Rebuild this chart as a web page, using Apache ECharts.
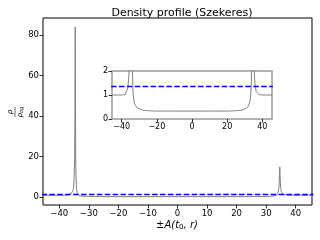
<!DOCTYPE html>
<html><head><meta charset="utf-8">
<script src="https://cdn.jsdelivr.net/npm/echarts@6/dist/echarts.min.js"></script>
<style>html,body{margin:0;padding:0;background:#fff}#c{width:320px;height:240px}</style>
</head><body><div id="c"></div>
<script>
// Density profile values
const xValues = [-45.5,-42,-40,-38,-37,-36.5,-36,-35.7,-35.4,-35.2,-35.0,-34.8,-34.7,-34.6,-34.5,-34.4,-34.2,-34.0,-33.7,-33.4,-33,-32.5,-32,-31,-30,-28,-26,-24,-20,-15,-10,0,10,15,20,24,26,28,30,31,32,32.5,33,33.4,33.7,34.0,34.2,34.4,34.6,34.8,35.0,35.3,35.6,36,36.5,37,38,40,42,45.5];
const rhoValues = [1.0,1.0,1.0,1.02,1.1,1.3,1.7,2.2,3.2,4.5,8,20,40,84,40,15,5,2.5,1.4,1.0,0.75,0.6,0.52,0.45,0.41,0.37,0.35,0.34,0.33,0.33,0.33,0.33,0.33,0.33,0.33,0.34,0.35,0.37,0.41,0.45,0.52,0.6,0.75,1.0,1.4,2.3,3.5,7,15,7,3.5,2.2,1.7,1.35,1.15,1.07,1.02,1.0,1.0,1.0];
const bgX = [-46, 46];
const bgLevel = 1.35;
const mainXTicks = [-40,-30,-20,-10,0,10,20,30,40];
const mainYTicks = [0,20,40,60,80];
const insetXTicks = [-40,-20,0,20,40];
const insetYTicks = [0,1,2];

const curve = xValues.map((x,i)=>[x, rhoValues[i]]);
const bgLine = bgX.map(x=>[x,bgLevel]);
const fmt = v => (v<0 ? '\u2212'+Math.abs(v) : String(v));
const font = 'DejaVu Sans';

function xAxis(idx, ticks, fs){
  return {type:'value', gridIndex:idx, min:-45.5, max:45.5, position:'bottom',
    axisLine:{show:false, onZero:false}, splitLine:{show:false},
    axisTick:{show:true, inside:false, length:3.5, lineStyle:{color:'#000', width:0.8}, customValues:ticks},
    axisLabel:{color:'#000', fontFamily:font, fontSize:fs, margin:4, customValues:ticks, formatter:fmt}};
}
function yAxis(idx, min, max, ticks, fs){
  return {type:'value', gridIndex:idx, min:min, max:max, position:'left',
    axisLine:{show:false, onZero:false}, splitLine:{show:false},
    axisTick:{show:true, inside:false, length:3.5, lineStyle:{color:'#000', width:0.8}, customValues:ticks},
    axisLabel:{color:'#000', fontFamily:font, fontSize:fs, margin:4, customValues:ticks, formatter:fmt}};
}

const chart = echarts.init(document.getElementById('c'), null, {renderer:'canvas'});
chart.setOption({
  animation:false,
  backgroundColor:'#fff',
  title:{text:'Density profile (Szekeres)', left:177, textAlign:'center', top:3,
    textStyle:{fontFamily:font, fontSize:11, fontWeight:'normal', color:'#000'}},
  grid:[
    {left:43, right:8, top:18, bottom:35, show:true, borderColor:'#000', borderWidth:1, backgroundColor:'transparent'},
    {left:112, right:48, top:71, bottom:121, show:true, borderColor:'#999', borderWidth:1.5, backgroundColor:'#fff', z:5}
  ],
  xAxis:[xAxis(0, mainXTicks, 8.5), Object.assign(xAxis(1, insetXTicks, 8), {z:6})],
  yAxis:[yAxis(0, -3.8, 88.4, mainYTicks, 8.5), Object.assign(yAxis(1, 0, 2, insetYTicks, 8), {z:6})],
  series:[
    {type:'line', xAxisIndex:0, yAxisIndex:0, data:curve, showSymbol:false, symbol:'none', sampling:null,
      lineStyle:{color:'#808080', width:1}, z:2},
    {type:'line', xAxisIndex:0, yAxisIndex:0, data:bgLine, showSymbol:false, symbol:'none',
      lineStyle:{color:'#0000ff', width:1.5, type:[5.5,2.4]}, z:3},
    {type:'line', xAxisIndex:1, yAxisIndex:1, data:curve, showSymbol:false, symbol:'none', clip:true,
      lineStyle:{color:'#808080', width:1}, z:7},
    {type:'line', xAxisIndex:1, yAxisIndex:1, data:bgLine, showSymbol:false, symbol:'none', clip:true,
      lineStyle:{color:'#0000ff', width:1.5, type:[5.5,2.4]}, z:8}
  ],
  graphic:[
    {type:'group', x:15, y:112, rotation:Math.PI/2, children:[
      {type:'text', x:0, y:-1.5, style:{text:'ρ', fontFamily:font, fontSize:7, fontStyle:'italic', fill:'#000', align:'center', verticalAlign:'bottom'}},
      {type:'line', shape:{x1:-5, y1:0, x2:5, y2:0}, style:{stroke:'#000', lineWidth:0.6}},
      {type:'text', x:0, y:1, style:{text:'{a|ρ}{b|bg}', fontFamily:font, fill:'#000', align:'center', verticalAlign:'top',
        rich:{a:{fontSize:7, fontStyle:'italic', fontFamily:font}, b:{fontSize:5, fontStyle:'italic', fontFamily:font, verticalAlign:'bottom', padding:[3,0,0,0]}}}}
    ]},
    {type:'text', x:177, y:225, style:{text:'{n|±}{i|A(t}{s|0}{i|, r)}', align:'center', verticalAlign:'middle', fill:'#000',
      rich:{n:{fontFamily:font, fontSize:10}, i:{fontFamily:font, fontSize:10, fontStyle:'italic'}, s:{fontFamily:font, fontSize:7, padding:[5,0,0,0]}}}}
  ]
});
</script></body></html>
